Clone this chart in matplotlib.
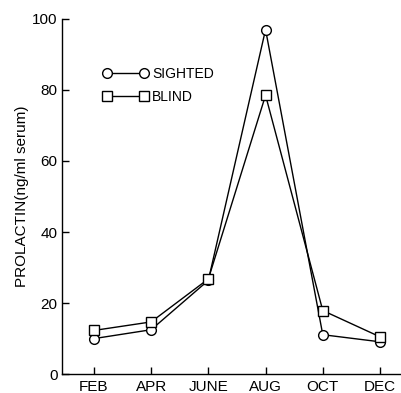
import matplotlib
matplotlib.use("Agg")
import matplotlib.pyplot as plt

months = [2, 4, 6, 8, 10, 12]
month_labels = ["FEB", "APR", "JUNE", "AUG", "OCT", "DEC"]
sighted = [10.0, 12.5, 26.4, 97.0, 11.1, 9.1]
blind = [12.3, 14.7, 26.8, 78.5, 17.9, 10.5]

plt.rcParams["font.family"] = ["Liberation Sans", "DejaVu Sans"]

fig = plt.figure(figsize=(4.02, 3.93), dpi=100)
ax = fig.add_axes([0.154, 0.048, 0.846, 0.904])

ax.plot(months, sighted, color="black", lw=1.0, marker="o", ms=7,
        mfc="white", mec="black", mew=1.0, label="SIGHTED")
ax.plot(months, blind, color="black", lw=1.0, marker="s", ms=7,
        mfc="white", mec="black", mew=1.0, label="BLIND")

ax.set_xlim(0.88, 12.77)
ax.set_ylim(0, 100)
ax.set_xticks(months)
ax.set_xticklabels(month_labels, fontsize=10)
ax.set_yticks([0, 20, 40, 60, 80, 100])
ax.tick_params(axis="both", direction="in", length=5, width=1.0, labelsize=11)
ax.tick_params(axis="x", pad=4)
ax.tick_params(axis="y", pad=3)
for side in ("top", "right"):
    ax.spines[side].set_visible(False)
for side in ("left", "bottom"):
    ax.spines[side].set_linewidth(1.0)

ax.set_ylabel("PROLACTIN(ng/ml serum)", fontsize=11, labelpad=2)

ax.legend(loc="upper left", bbox_to_anchor=(0.085, 0.9), numpoints=2,
          handlelength=3.2, frameon=False, fontsize=10, handletextpad=0.3,
          labelspacing=0.65)

fig.savefig("out.png", dpi=100)
